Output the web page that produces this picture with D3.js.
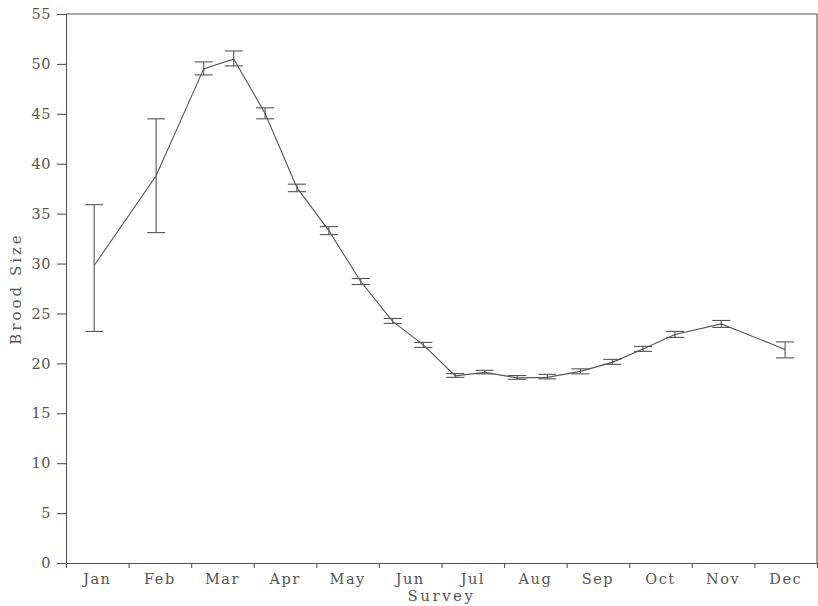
<!DOCTYPE html>
<html><head><meta charset="utf-8">
<script src="https://cdn.jsdelivr.net/npm/d3@7"></script>
<style>
html,body{margin:0;padding:0;background:#fff;}
svg text{font-family:"DejaVu Serif","Liberation Serif",serif;fill:#555;}
</style></head>
<body><svg id="c" width="818" height="606"></svg>
<script>
const months = ["Jan","Feb","Mar","Apr","May","Jun","Jul","Aug","Sep","Oct","Nov","Dec"];
const yTicks = [0,5,10,15,20,25,30,35,40,45,50,55];
const surveyPos = [0.45,1.44,2.2,2.68,3.18,3.69,4.2,4.71,5.22,5.71,6.22,6.69,7.21,7.69,8.22,8.73,9.22,9.73,10.47,11.49];
const broodMean = [29.8,38.8,49.5,50.5,45.05,37.6,33.3,28.2,24.2,21.85,18.75,19.1,18.55,18.6,19.2,20.1,21.45,22.9,23.95,21.4];
const broodLow  = [23.2,33.1,48.9,49.8,44.5,37.2,32.9,27.9,24.0,21.6,18.6,18.95,18.4,18.45,18.95,19.9,21.2,22.6,23.6,20.55];
const broodHigh = [35.9,44.5,50.2,51.3,45.6,37.95,33.7,28.5,24.5,22.1,18.98,19.3,18.78,18.9,19.45,20.4,21.7,23.2,24.3,22.15];

const svg = d3.select("#c");
const L = 66, R = 817, T = 14, B = 563;
const x = d3.scaleLinear().domain([0,12]).range([L,R]);
const y = d3.scaleLinear().domain([0,55]).range([B,T]);
const stroke = "#555";

// frame top/right
svg.append("line").attr("x1",L).attr("x2",R).attr("y1",T).attr("y2",T).attr("stroke",stroke).attr("stroke-width",1.1);
svg.append("line").attr("x1",R).attr("x2",R).attr("y1",T).attr("y2",B).attr("stroke",stroke).attr("stroke-width",1.1);

// y axis
const ya = svg.append("g").attr("transform",`translate(${L},0)`)
  .call(d3.axisLeft(y).tickValues(yTicks).tickSize(9).tickPadding(6));
ya.select(".domain").attr("stroke",stroke).attr("stroke-width",1.1);
ya.selectAll(".tick line").attr("stroke",stroke).attr("stroke-width",1.1);
ya.selectAll(".tick text").attr("font-size",14.5).attr("font-family","DejaVu Serif").attr("fill","#555").attr("letter-spacing","0.5px");

// x axis: boundaries ticks, labels centered
const xa = svg.append("g").attr("transform",`translate(0,${B})`)
  .call(d3.axisBottom(x).tickValues(d3.range(0,13)).tickSize(5).tickFormat(""));
xa.select(".domain").attr("stroke",stroke).attr("stroke-width",1.1);
xa.selectAll(".tick line").attr("stroke",stroke).attr("stroke-width",1.1);
svg.append("g").selectAll("text").data(months).join("text")
  .attr("x",(d,i)=>x(i+0.5)).attr("y",B+21).attr("text-anchor","middle")
  .attr("font-size",14.5).attr("letter-spacing","1.5px").text(d=>d);

// axis titles
svg.append("text").attr("x",x(6)).attr("y",601).attr("text-anchor","middle")
  .attr("font-size",15).attr("letter-spacing","2.5px").text("Survey");
svg.append("text").attr("transform",`translate(21,${y(27.5)}) rotate(-90)`).attr("text-anchor","middle")
  .attr("font-size",15).attr("letter-spacing","3px").text("Brood Size");

// line
const pts = surveyPos.map((p,i)=>({p, m:broodMean[i], lo:broodLow[i], hi:broodHigh[i]}));
svg.append("path").datum(pts)
  .attr("d", d3.line().x(d=>x(d.p)).y(d=>y(d.m)))
  .attr("fill","none").attr("stroke",stroke).attr("stroke-width",1.1);

// error bars
const cap = 9;
const eb = svg.append("g").attr("stroke",stroke).attr("stroke-width",1.1);
eb.selectAll("line.v").data(pts).join("line").attr("class","v")
  .attr("x1",d=>x(d.p)).attr("x2",d=>x(d.p)).attr("y1",d=>y(d.lo)).attr("y2",d=>y(d.hi));
eb.selectAll("line.t").data(pts).join("line").attr("class","t")
  .attr("x1",d=>x(d.p)-cap).attr("x2",d=>x(d.p)+cap).attr("y1",d=>y(d.hi)).attr("y2",d=>y(d.hi));
eb.selectAll("line.b").data(pts).join("line").attr("class","b")
  .attr("x1",d=>x(d.p)-cap).attr("x2",d=>x(d.p)+cap).attr("y1",d=>y(d.lo)).attr("y2",d=>y(d.lo));
</script></body></html>
